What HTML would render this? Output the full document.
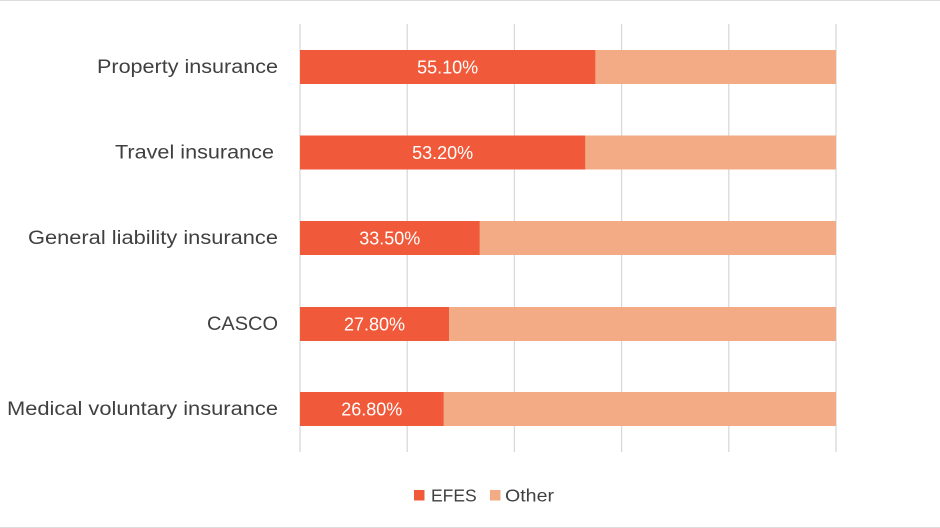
<!DOCTYPE html>
<html><head><meta charset="utf-8"><style>
html,body{margin:0;padding:0;background:#fff;}
svg{display:block;}
text{font-family:"Liberation Sans",sans-serif;}
</style></head><body>
<svg width="940" height="528" viewBox="0 0 940 528" xmlns="http://www.w3.org/2000/svg">
<rect width="940" height="528" fill="#fff"/>
<line x1="0" y1="0.5" x2="940" y2="0.5" stroke="#dcdcdc"/>
<line x1="0" y1="527.5" x2="940" y2="527.5" stroke="#dcdcdc"/>
<g stroke="#d9d9d9" stroke-width="1.3">
<line x1="300" y1="24" x2="300" y2="452"/>
<line x1="407.2" y1="24" x2="407.2" y2="452"/>
<line x1="514.4" y1="24" x2="514.4" y2="452"/>
<line x1="621.6" y1="24" x2="621.6" y2="452"/>
<line x1="728.8" y1="24" x2="728.8" y2="452"/>
<line x1="836" y1="24" x2="836" y2="452"/>
</g>
<g>
<rect x="300" y="50" width="536" height="34" fill="#F2AB85"/>
<rect x="300" y="50" width="295.3" height="34" fill="#F05A3A"/>
<rect x="300" y="135.5" width="536" height="34" fill="#F2AB85"/>
<rect x="300" y="135.5" width="285.2" height="34" fill="#F05A3A"/>
<rect x="300" y="221" width="536" height="34" fill="#F2AB85"/>
<rect x="300" y="221" width="179.6" height="34" fill="#F05A3A"/>
<rect x="300" y="307" width="536" height="34" fill="#F2AB85"/>
<rect x="300" y="307" width="149" height="34" fill="#F05A3A"/>
<rect x="300" y="392" width="536" height="34" fill="#F2AB85"/>
<rect x="300" y="392" width="143.6" height="34" fill="#F05A3A"/>
</g>
<g fill="#fff" font-size="18" text-anchor="middle">
<text x="447.6" y="73.5">55.10%</text>
<text x="442.6" y="159">53.20%</text>
<text x="389.8" y="244.5">33.50%</text>
<text x="374.5" y="330.5">27.80%</text>
<text x="371.8" y="415.5">26.80%</text>
</g>
<g fill="#404040" font-size="19">
<text x="97" y="73" textLength="181" lengthAdjust="spacingAndGlyphs">Property insurance</text>
<text x="115" y="158.5" textLength="159" lengthAdjust="spacingAndGlyphs">Travel insurance</text>
<text x="28" y="244" textLength="250" lengthAdjust="spacingAndGlyphs">General liability insurance</text>
<text x="207" y="330" textLength="71" lengthAdjust="spacingAndGlyphs">CASCO</text>
<text x="7" y="415" textLength="271" lengthAdjust="spacingAndGlyphs">Medical voluntary insurance</text>
</g>
<rect x="414" y="490" width="10.5" height="10.5" fill="#F05A3A"/>
<text x="431" y="501.5" font-size="17.5" fill="#404040">EFES</text>
<rect x="490" y="490" width="10.5" height="10.5" fill="#F2AB85"/>
<text x="505" y="501.5" font-size="17.5" fill="#404040" textLength="49" lengthAdjust="spacingAndGlyphs">Other</text>
</svg>
</body></html>
